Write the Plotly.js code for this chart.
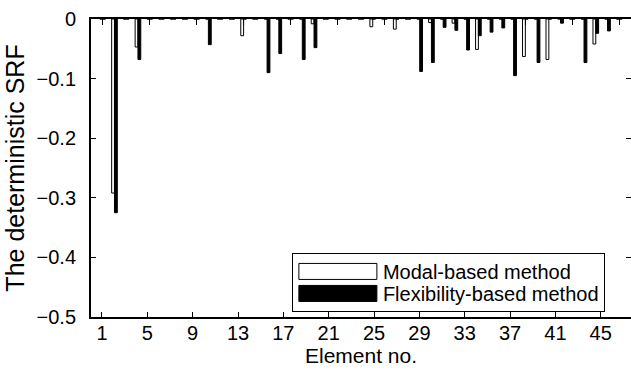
<!DOCTYPE html>
<html>
<head>
<meta charset="utf-8">
<script src="https://cdn.plot.ly/plotly-3.0.1.min.js"></script>
<style>
  html, body { margin: 0; padding: 0; background: #fff; }
  #chart { width: 631px; height: 374px; }
</style>
</head>
<body>
<div id="chart"></div>
<script>
// ---- data ----
const elements = [];
for (let i = 1; i <= 45; i++) elements.push(i);

const seriesNames = ["Modal-based method", "Flexibility-based method"];

// Modal-based method SRF per element (1..45)
const modalSRF = [
  0, -0.292, 0, -0.047, 0, 0, 0, 0, 0, 0,
  0, 0, -0.028, 0, 0, 0, 0, 0, -0.008, 0,
  0, 0, 0, -0.013, 0, -0.017, 0, 0, -0.006, 0,
  -0.007, 0, -0.051, 0, 0, 0, -0.063, 0, -0.068, 0,
  0, 0, -0.042, 0, 0
];

// Flexibility-based method SRF per element (1..45)
const flexSRF = [
  0, -0.325, 0, -0.068, 0, 0, 0, 0, 0, -0.043,
  0, 0, 0, 0, -0.090, -0.058, 0, -0.068, -0.048, 0,
  0, 0, 0, 0, 0, 0, 0, -0.088, -0.073, -0.014,
  -0.019, -0.052, -0.028, -0.022, -0.015, -0.095, 0, -0.073, 0, -0.007,
  0, -0.073, -0.024, -0.020, 0
];

const xTickVals = [1, 5, 9, 13, 17, 21, 25, 29, 33, 37, 41, 45];
const yTickVals = [0, -0.1, -0.2, -0.3, -0.4, -0.5];

const FONT = "Liberation Sans, Arial, Helvetica, sans-serif";

const traces = [
  {
    type: "bar", name: seriesNames[0], x: elements, y: modalSRF,
    marker: { color: "#ffffff", line: { color: "#000000", width: 1 } },
    hoverinfo: "skip"
  },
  {
    type: "bar", name: seriesNames[1], x: elements, y: flexSRF,
    marker: { color: "#000000", line: { color: "#000000", width: 1 } },
    hoverinfo: "skip"
  },
  // carrier for the bottom labelled axis
  { type: "scatter", x: [], y: [], xaxis: "x2", yaxis: "y", showlegend: false, hoverinfo: "skip" }
];

const layout = {
  width: 631, height: 374,
  margin: { l: 91, r: 0, t: 19, b: 57, pad: 0 },
  paper_bgcolor: "#ffffff", plot_bgcolor: "#ffffff",
  font: { family: FONT, size: 20, color: "#000000" },
  barmode: "group", bargap: 0.52, bargroupgap: 0,
  showlegend: true,
  legend: {
    x: 0.372, y: 0.215, xanchor: "left", yanchor: "top",
    bgcolor: "#ffffff", bordercolor: "#000000", borderwidth: 1,
    font: { family: FONT, size: 20, color: "#000000" },
    itemwidth: 80, tracegroupgap: 0, traceorder: "normal"
  },
  xaxis: {
    range: [0, 46], side: "top", anchor: "y",
    tickmode: "array", tickvals: xTickVals, showticklabels: false,
    ticks: "inside", ticklen: 6, tickwidth: 1, tickcolor: "#000000",
    showline: true, linecolor: "#000000", linewidth: 2,
    showgrid: false, zeroline: false, fixedrange: true
  },
  xaxis2: {
    overlaying: "x", anchor: "y", side: "bottom",
    range: [0.03, 47.67],
    tickmode: "array", tickvals: xTickVals, ticktext: xTickVals.map(String),
    ticks: "inside", ticklen: 5, tickwidth: 1, tickcolor: "#000000",
    ticklabelstandoff: -3,
    tickfont: { family: FONT, size: 20, color: "#000000" },
    showline: true, linecolor: "#000000", linewidth: 2,
    showgrid: false, zeroline: false, fixedrange: true,
    title: { text: "Element no.", font: { family: FONT, size: 21, color: "#000000" }, standoff: 5 }
  },
  yaxis: {
    range: [-0.5, 0],
    tickmode: "array", tickvals: yTickVals,
    ticktext: yTickVals.map(v => v === 0 ? "0" : "\u2212" + Math.abs(v).toFixed(1)),
    ticks: "inside", ticklen: 5, tickwidth: 1, tickcolor: "#000000",
    ticklabelstandoff: 9,
    tickfont: { family: FONT, size: 20, color: "#000000" },
    showline: true, linecolor: "#000000", linewidth: 2, mirror: "ticks",
    showgrid: false, zeroline: false, fixedrange: true,
    title: { text: "The deterministic SRF", font: { family: FONT, size: 25, color: "#000000" }, standoff: 5 }
  }
};

Plotly.newPlot("chart", traces, layout, { displayModeBar: false, staticPlot: true }).then(gd => {
  // enlarge the legend swatches to wide rectangles as in the reference
  gd.querySelectorAll(".legend .legendpoints path").forEach(p => {
    p.setAttribute("d", "M-39,-8H39V8H-39Z");
  });
  // tighten the legend rows like the reference
  const items = Array.from(gd.querySelectorAll(".legend .traces"));
  const parse = el => {
    const m = /translate\(\s*([-\d.]+)[ ,]+([-\d.]+)\s*\)/.exec(el.getAttribute("transform") || "");
    return m ? [parseFloat(m[1]), parseFloat(m[2])] : [0, 0];
  };
  if (items.length > 1) {
    const p0 = parse(items[0]), p1 = parse(items[1]);
    const oldStep = p1[1] - p0[1];
    const newStep = 22;
    const shift = oldStep - newStep;
    items.forEach((el, i) => {
      const p = parse(el);
      el.setAttribute("transform", "translate(" + p[0] + "," + (p0[1] + i * newStep - 2) + ")");
    });
    const bg = gd.querySelector(".legend rect.bg");
    if (bg) {
      const h = parseFloat(bg.getAttribute("height"));
      bg.setAttribute("height", h - shift * (items.length - 1) - 4);
    }
  }
});
</script>
</body>
</html>
